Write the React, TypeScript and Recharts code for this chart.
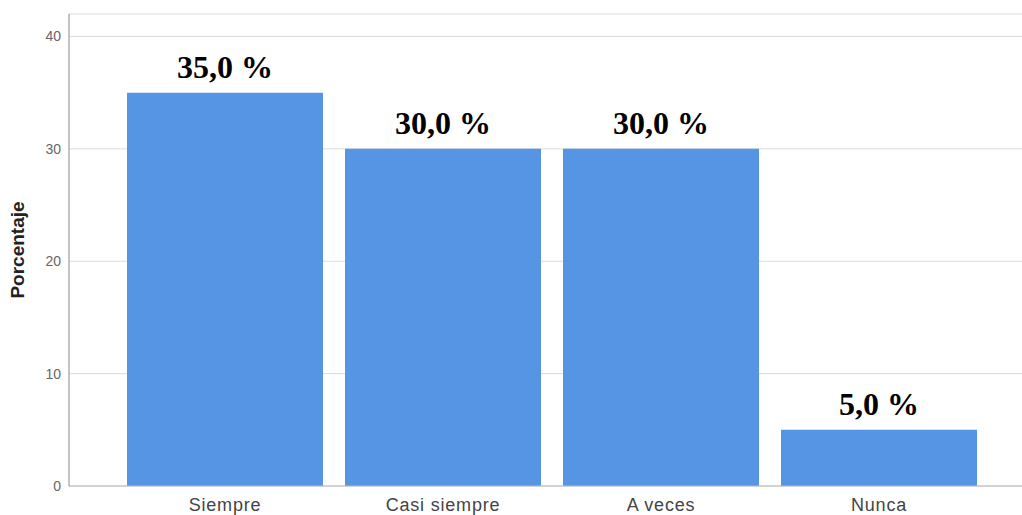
import { BarChart, Bar, XAxis, YAxis, CartesianGrid, LabelList } from "recharts"

// categories and their share of responses (%)
const categories = ["Siempre", "Casi siempre", "A veces", "Nunca"]
const percentages = [35, 30, 30, 5]
const yTicks = [0, 10, 20, 30, 40]

const data = categories.map((name, i) => ({ name, value: percentages[i] }))

const formatPct = (v: number) => `${v.toFixed(1).replace(".", ",")} %`

export default function App() {
  return (
    <div style={{ position: "absolute", left: 0, top: 0, background: "#fff" }}>
      <BarChart
        width={1022}
        height={515}
        data={data}
        margin={{ top: 14, right: 0, bottom: 0, left: 0 }}
        barCategoryGap={11}
      >
        <CartesianGrid vertical={false} stroke="#dcdcdc" />
        <XAxis
          dataKey="name"
          height={29}
          padding={{ left: 47, right: 34 }}
          tickLine={false}
          tickMargin={6}
          stroke="#b8b8b8"
          tick={{
            fill: "#444",
            fontSize: 18,
            letterSpacing: 0.8,
            fontFamily: "Liberation Sans, Arial, sans-serif",
          }}
        />
        <YAxis
          width={69}
          domain={[0, 42]}
          ticks={yTicks}
          tickLine={false}
          stroke="#8a8a8a"
          tick={{ fill: "#666", fontSize: 14, fontFamily: "Liberation Sans, Arial, sans-serif" }}
          label={{
            value: "Porcentaje",
            angle: -90,
            position: "insideLeft",
            offset: 17,
            style: {
              fill: "#222",
              fontSize: 19,
              fontWeight: 700,
              textAnchor: "middle",
              fontFamily: "Liberation Sans, Arial, sans-serif",
            },
          }}
        />
        <Bar dataKey="value" fill="#5595e4" isAnimationActive={false}>
          <LabelList
            dataKey="value"
            position="top"
            offset={15}
            formatter={(v: any) => formatPct(Number(v))}
            style={{
              fill: "#000",
              fontSize: 32,
              fontWeight: 700,
              fontFamily: "Liberation Serif, Times New Roman, serif",
            }}
          />
        </Bar>
      </BarChart>
    </div>
  )
}
